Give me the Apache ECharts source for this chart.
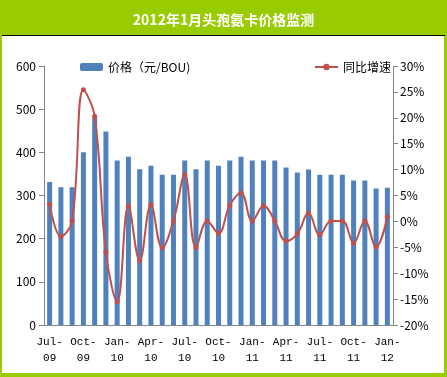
<!DOCTYPE html>
<html>
<head>
<meta charset="utf-8">
<script src="https://cdn.jsdelivr.net/npm/echarts@6/dist/echarts.min.js"></script>
<style>
html, body { margin: 0; padding: 0; }
#main { width: 447px; height: 377px; }
</style>
</head>
<body>
<div id="main"></div>
<script>
// 月份 Jul-09 ~ Jan-12
var months = ['Jul-09','Aug-09','Sep-09','Oct-09','Nov-09','Dec-09','Jan-10','Feb-10','Mar-10','Apr-10','May-10','Jun-10',
  'Jul-10','Aug-10','Sep-10','Oct-10','Nov-10','Dec-10','Jan-11','Feb-11','Mar-11','Apr-11','May-11','Jun-11',
  'Jul-11','Aug-11','Sep-11','Oct-11','Nov-11','Dec-11','Jan-12'];
// 价格（元/BOU)
var price = [331,319,319,400,481,448,381,390,361,369,348,348,381,361,381,369,381,390,381,381,381,365,353,360,348,348,348,335,335,316,318];
// 同比增速 %
var growth = [3.3,-2.9,0.1,25.4,20.3,-6.0,-15.5,3.0,-7.6,3.2,-5.1,0.1,9.0,-5.1,0.1,-2.3,3.1,5.5,0.1,3.0,0.1,-3.8,-2.4,1.6,-2.6,0.1,0.1,-4.2,0.1,-4.9,0.9];

var green = '#99cc00';
var axisColor = '#868686';
var font = '"Noto Sans CJK SC", sans-serif';

var myChart = echarts.init(document.getElementById('main'));
var option = {
    backgroundColor: green,
    animation: false,
    title: {
        text: '2012年1月头孢氨卡价格监测',
        left: 'center',
        top: 8,
        textStyle: { color: '#fff', fontSize: 14, fontWeight: 'bold', fontFamily: font }
    },
    graphic: [
        { type: 'rect', z: -10, shape: { x: 2, y: 35, width: 442, height: 338 }, style: { fill: '#fff' } },
        { type: 'line', z: -9, shape: { x1: 2, y1: 35.5, x2: 445, y2: 35.5 }, style: { stroke: '#000', lineWidth: 1 } }
    ],
    legend: [{
        data: ['价格（元/BOU)'],
        left: 75, top: 56,
        itemWidth: 23, itemHeight: 8,
        textStyle: { fontSize: 12, fontFamily: font, color: '#000' }
    }, {
        data: ['同比增速'],
        left: 309, top: 56,
        itemWidth: 23, itemHeight: 8,
        textStyle: { fontSize: 12, fontFamily: font, color: '#000' }
    }],
    grid: { left: 44, right: 54, top: 66, bottom: 52, outerBoundsMode: 'none' },
    xAxis: {
        type: 'category',
        data: months,
        axisLine: { lineStyle: { color: axisColor, width: 1 } },
        axisTick: { interval: 2, length: 5, lineStyle: { color: axisColor } },
        axisLabel: {
            interval: 2,
            margin: 9,
            color: '#000',
            fontSize: 11,
            lineHeight: 16,
            fontFamily: '"Liberation Mono", monospace',
            formatter: function (v) { var p = v.split('-'); return p[0] + '-\n' + p[1]; }
        }
    },
    yAxis: [{
        type: 'value',
        min: 0, max: 600, interval: 100,
        axisLine: { show: true, lineStyle: { color: axisColor } },
        axisTick: { show: true, length: 5, lineStyle: { color: axisColor } },
        splitLine: { show: false },
        axisLabel: { color: '#000', fontSize: 12, margin: 8, fontFamily: font }
    }, {
        type: 'value',
        min: -20, max: 30, interval: 5,
        axisLine: { show: true, lineStyle: { color: axisColor } },
        axisTick: { show: true, length: 5, lineStyle: { color: axisColor } },
        splitLine: { show: false },
        axisLabel: { color: '#000', fontSize: 12, margin: 7, fontFamily: font, formatter: '{value}%' }
    }],
    series: [{
        name: '价格（元/BOU)',
        type: 'bar',
        data: price,
        barWidth: 5,
        itemStyle: { color: '#4f81bd' }
    }, {
        name: '同比增速',
        type: 'line',
        yAxisIndex: 1,
        data: growth,
        smooth: 0.4,
        symbol: 'circle',
        symbolSize: 5,
        lineStyle: { color: '#c0504d', width: 2 },
        itemStyle: { color: '#c0504d' }
    }]
};
myChart.setOption(option);
</script>
</body>
</html>
